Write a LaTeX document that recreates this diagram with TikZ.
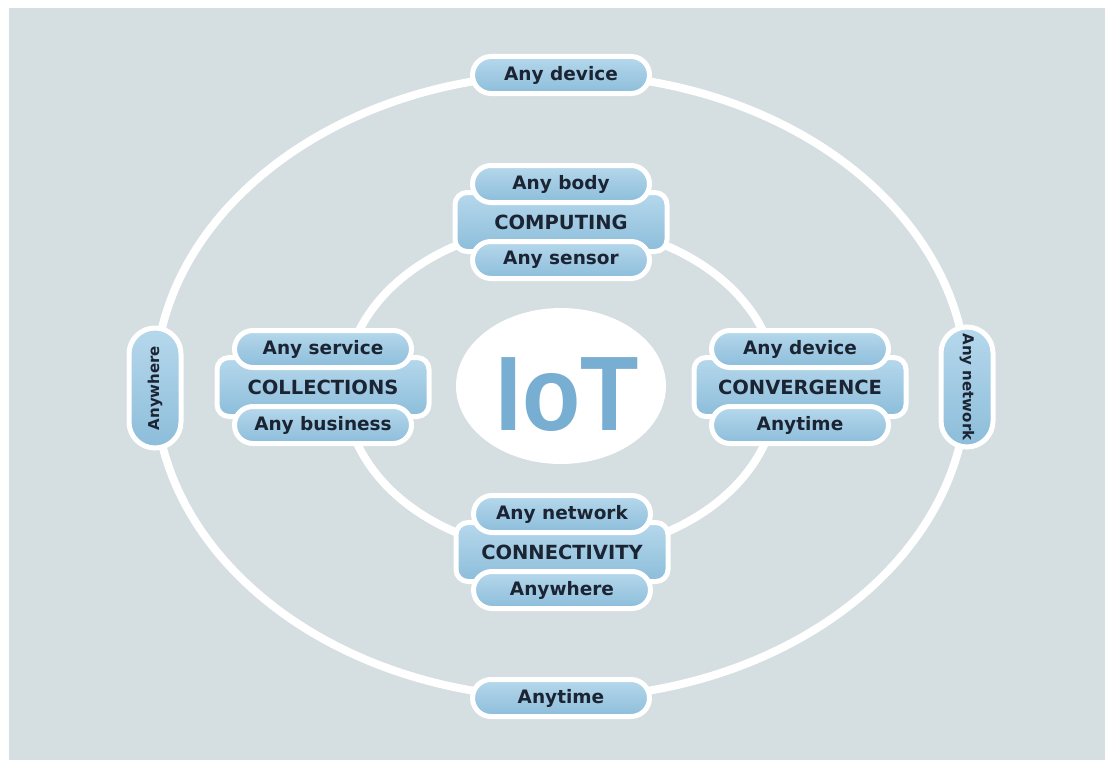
\documentclass[tikz,border=0pt]{standalone}
\usepackage{fontspec}
\setmainfont{Liberation Sans}[BoldFont={Liberation Sans Bold}]
\newfontfamily\heavy{DejaVu Sans}[BoldFont={DejaVu Sans Bold}]
\usetikzlibrary{shapes.misc,shadows}
\definecolor{bg}{HTML}{D5DEE1}
\definecolor{pilltop}{HTML}{B6D8EC}
\definecolor{pillbot}{HTML}{8CBDDA}
\definecolor{txt}{HTML}{1B2433}
\definecolor{iot}{HTML}{78AED2}
\begin{document}
\begin{tikzpicture}[x=1pt,y=-1pt,
  ring/.style={draw=white, line width=8pt},
  pill/.style={rounded rectangle, draw=white, line width=5pt,
    top color=pilltop, bottom color=pillbot,
    minimum width=177pt, minimum height=37pt, inner sep=0pt,
    font=\heavy\bfseries\fontsize{18.5}{18.5}\selectfont, text=txt,
    drop shadow={opacity=0.15, shadow xshift=1pt, shadow yshift=-2pt}},
  vpill/.style={pill, minimum width=120pt, minimum height=52pt,
    font=\heavy\bfseries\fontsize{15}{15}\selectfont},
  backbox/.style={rectangle, rounded corners=12pt, draw=white, line width=5pt,
    top color=pilltop, bottom color=pillbot,
    minimum width=212pt, minimum height=59pt, inner sep=0pt,
    font=\heavy\bfseries\fontsize{19.5}{19.5}\selectfont, text=txt,
    drop shadow={opacity=0.15, shadow xshift=1pt, shadow yshift=-2pt}}
]
\useasboundingbox (0,0) rectangle (1105,760);
\fill[white] (0,0) rectangle (1105,760);
\fill[bg] (9,8) rectangle (1105,760);

% rings
\draw[ring] (561,386) ellipse [x radius=406, y radius=312];
\draw[ring] (561,389) ellipse [x radius=216, y radius=164];

% centre
\fill[white] (561,386) ellipse [x radius=105, y radius=78];
\node[inner sep=0pt, text=iot, font=\bfseries\fontsize{106}{106}\selectfont, xscale=0.9] (iot) at (567,395) {IoT};

% COMPUTING
\node[backbox] (comp) at (561,222) {COMPUTING};
\node[pill] (compT) at (561,184) {Any body};
\node[pill] (compB) at (561,260) {Any sensor};

% COLLECTIONS
\node[backbox] (coll) at (323,387) {COLLECTIONS};
\node[pill] (collT) at (323,349) {Any service};
\node[pill] (collB) at (323,425) {Any business};

% CONVERGENCE
\node[backbox] (conv) at (800,387) {CONVERGENCE};
\node[pill] (convT) at (800,349) {Any device};
\node[pill] (convB) at (800,425) {Anytime};

% CONNECTIVITY
\node[backbox] (conn) at (562,552) {CONNECTIVITY};
\node[pill] (connT) at (562,514) {Any network};
\node[pill] (connB) at (562,590) {Anywhere};

% outer ring labels
\node[pill] (top) at (561,75) {Any device};
\node[pill] (bottom) at (561,698) {Anytime};
\node[vpill, rotate=90] (left) at (155,388) {Anywhere};
\node[vpill, rotate=-90] (right) at (967,387) {Any network};
\end{tikzpicture}
\end{document}
